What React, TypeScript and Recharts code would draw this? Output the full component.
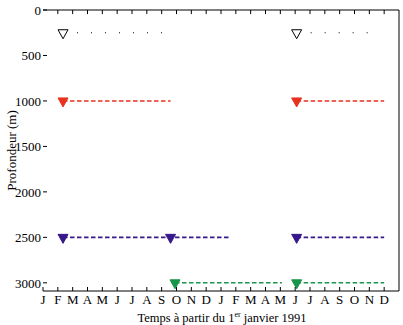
import {
    ComposedChart,
    Line,
    Scatter,
    XAxis,
    YAxis,
} from 'recharts';

// month letters, Jan 1991 -> Dec 1992
const MONTHS = [
    'J', 'F', 'M', 'A', 'M', 'J', 'J', 'A', 'S', 'O', 'N', 'D',
    'J', 'F', 'M', 'A', 'M', 'J', 'J', 'A', 'S', 'O', 'N', 'D',
];
const DEPTH_TICKS = [0, 500, 1000, 1500, 2000, 2500, 3000];

// instrument depths (m)
const DEPTH_250 = 250;
const DEPTH_1000 = 1000;
const DEPTH_2500 = 2500;
const DEPTH_3000 = 3000;

// record periods, in months since 1 Jan 1991 (start, end)
const SEG_250 = [[1.35, 8.6], [17.1, 22.3]];
const SEG_1000 = [[1.35, 8.6], [17.1, 23]];
const SEG_2500 = [[1.35, 12.6], [17.1, 23]];
const SEG_3000 = [[8.9, 16.1], [17.1, 23]];

// deployment markers
const MARK_250 = [1.35, 17.1];
const MARK_1000 = [1.35, 17.1];
const MARK_2500 = [1.35, 8.6, 17.1];
const MARK_3000 = [8.9, 17.1];

const FONT = '"Liberation Serif", "Times New Roman", serif';
const Y_MAX = 3090;
const X_MAX = 24;
const TOP_TICK_LEN = 45; // in metres, ~4px

const series = [
    { depth: DEPTH_250, segs: SEG_250, marks: MARK_250, color: '#000000', dash: '1 13', open: true },
    { depth: DEPTH_1000, segs: SEG_1000, marks: MARK_1000, color: '#e8321e', dash: '4.5 2.5', open: false },
    { depth: DEPTH_2500, segs: SEG_2500, marks: MARK_2500, color: '#36188a', dash: '4.5 2.5', open: false },
    { depth: DEPTH_3000, segs: SEG_3000, marks: MARK_3000, color: '#17954a', dash: '4.5 2.5', open: false },
];

const triangle = (color: string, open: boolean) => (props: any) => {
    const { cx, cy } = props;
    return (
        <polygon
            points={`${cx - 5},${cy - 3} ${cx + 5},${cy - 3} ${cx},${cy + 6}`}
            fill={open ? '#ffffff' : color}
            stroke={color}
            strokeWidth={1}
        />
    );
};

const BottomTick = (props: any) => {
    const { x, y, payload } = props;
    return (
        <g>
            <line x1={x} y1={y} x2={x} y2={y - 4} stroke="#000" />
            <text x={x} y={y + 13} textAnchor="middle" fontFamily={FONT} fontSize={13} fill="#000">
                {MONTHS[payload.value]}
            </text>
        </g>
    );
};

const LeftTick = (props: any) => {
    const { x, y, payload } = props;
    return (
        <g>
            <line x1={x} y1={y} x2={x + 4} y2={y} stroke="#000" />
            <text x={x - 2} y={y + 5} textAnchor="end" fontFamily={FONT} fontSize={13} fill="#000">
                {payload.value}
            </text>
        </g>
    );
};

const RightTick = (props: any) => {
    const { x, y } = props;
    return <line x1={x} y1={y} x2={x - 4} y2={y} stroke="#000" />;
};

const XLabel = (props: any) => {
    const { viewBox } = props;
    const cx = viewBox.x + viewBox.width / 2;
    return (
        <text x={cx + 1} y={viewBox.y + 31} textAnchor="middle" fontFamily={FONT} fontSize={12.5} fill="#000">
            Temps à partir du 1
            <tspan fontSize={8} dy={-5}>er</tspan>
            <tspan dy={5}> janvier 1991</tspan>
        </text>
    );
};

export default function App() {
    const monthTicks = MONTHS.map((_, i) => i);
    return (
        <div style={{ position: 'fixed', left: 0, top: 0, background: '#fff' }}>
            <ComposedChart
                width={403}
                height={325}
                margin={{ top: 10, right: 0, bottom: 0, left: 0 }}
            >
                <XAxis
                    xAxisId="b"
                    dataKey="m"
                    type="number"
                    domain={[0, X_MAX]}
                    ticks={monthTicks}
                    interval={0}
                    height={34}
                    tickSize={0}
                    tickMargin={0}
                    tickLine={false}
                    axisLine={{ stroke: '#000' }}
                    tick={<BottomTick />}
                    label={<XLabel />}
                />
                <YAxis
                    yAxisId="l"
                    type="number"
                    reversed
                    domain={[0, Y_MAX]}
                    ticks={DEPTH_TICKS}
                    interval={0}
                    width={43}
                    tickSize={0}
                    tickMargin={0}
                    tickLine={false}
                    axisLine={false}
                    tick={<LeftTick />}
                    label={{
                        value: 'Profondeur (m)',
                        angle: -90,
                        position: 'center',
                        dx: -10,
                        style: { fontFamily: FONT, fontSize: 13, fill: '#000' },
                    }}
                />
                <YAxis
                    yAxisId="r"
                    orientation="right"
                    type="number"
                    reversed
                    domain={[0, Y_MAX]}
                    ticks={DEPTH_TICKS}
                    interval={0}
                    width={4}
                    tickSize={0}
                    tickMargin={0}
                    tickLine={false}
                    axisLine={{ stroke: '#000' }}
                    tick={<RightTick />}
                />
                {/* top frame + inward month ticks, drawn as plain line series */}
                <Line
                    xAxisId="b"
                    yAxisId="l"
                    data={[{ m: 0, d: 0 }, { m: X_MAX, d: 0 }]}
                    dataKey="d"
                    stroke="#000"
                    strokeWidth={1}
                    dot={false}
                    activeDot={false}
                    isAnimationActive={false}
                />
                {monthTicks.slice(1).map((m) => (
                    <Line
                        key={`t${m}`}
                        xAxisId="b"
                        yAxisId="l"
                        data={[{ m, d: 0 }, { m, d: TOP_TICK_LEN }]}
                        dataKey="d"
                        stroke="#000"
                        strokeWidth={1}
                        dot={false}
                        activeDot={false}
                        isAnimationActive={false}
                    />
                ))}
                {series.map((s, i) =>
                    s.segs.map((seg, j) => (
                        <Line
                            key={`l${i}-${j}`}
                            xAxisId="b"
                            yAxisId="l"
                            data={seg.map((m) => ({ m, d: s.depth }))}
                            dataKey="d"
                            stroke={s.color}
                            strokeWidth={s.open ? 1.2 : 1.6}
                            strokeDasharray={s.dash}
                            dot={false}
                            activeDot={false}
                            isAnimationActive={false}
                        />
                    )),
                )}
                {series.map((s, i) => (
                    <Scatter
                        key={`s${i}`}
                        xAxisId="b"
                        yAxisId="l"
                        data={s.marks.map((m) => ({ m, d: s.depth }))}
                        dataKey="d"
                        shape={triangle(s.color, s.open)}
                        isAnimationActive={false}
                    />
                ))}
            </ComposedChart>
        </div>
    );
}
